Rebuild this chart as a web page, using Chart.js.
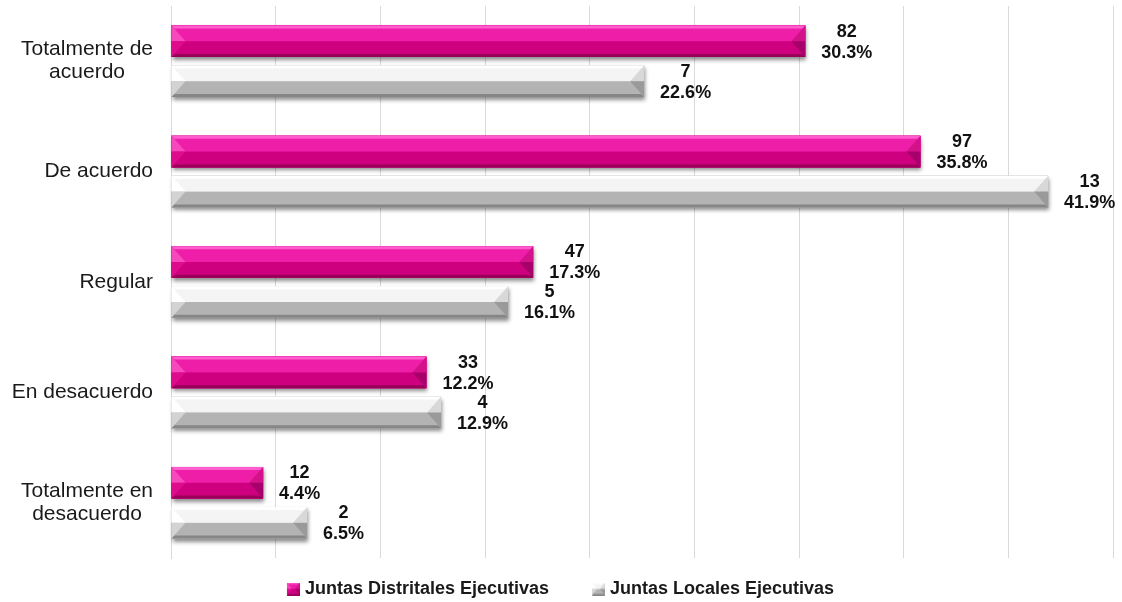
<!DOCTYPE html>
<html><head><meta charset="utf-8">
<script src="https://cdn.jsdelivr.net/npm/chart.js@4.4.1/dist/chart.umd.min.js"></script>
<style>html,body{margin:0;padding:0;background:#fff;}</style>
</head><body>
<canvas id="c" width="1122" height="602"></canvas>
<script>
// ---- data ----
const categories = [['Totalmente de', 'acuerdo'], 'De acuerdo', 'Regular', 'En desacuerdo', ['Totalmente en', 'desacuerdo']];
const seriesNames = ['Juntas Distritales Ejecutivas', 'Juntas Locales Ejecutivas'];
const distritalesPct = [30.3, 35.8, 17.3, 12.2, 4.4];
const distritalesCount = [82, 97, 47, 33, 12];
const localesPct = [22.6, 41.9, 16.1, 12.9, 6.5];
const localesCount = [7, 13, 5, 4, 2];
const axisMax = 45;
const axisStep = 5;

// ---- styles ----
const pinkFacets = {U:'#ee1ea8', L:'#cf007f', T:'#ff5cce', B:'#98005a', LT:'#f748be', LB:'#de0c8d', RT:'#d3128a', RB:'#a8006a'};
const grayFacets = {U:'#f4f4f4', L:'#b3b3b3', T:'#ffffff', B:'#868686', LT:'#ffffff', LB:'#d3d3d3', RT:'#d8d8d8', RB:'#9a9a9a'};
const facetsList = [pinkFacets, grayFacets];
const countsList = [distritalesCount, localesCount];

function drawBevel(ctx, l, t, r, b, f, e, s) {
  const mid = (t + b) / 2;
  const poly = (pts, col) => {
    ctx.beginPath(); ctx.moveTo(pts[0][0], pts[0][1]);
    for (let i = 1; i < pts.length; i++) ctx.lineTo(pts[i][0], pts[i][1]);
    ctx.closePath(); ctx.fillStyle = col; ctx.fill();
  };
  ctx.fillStyle = f.L; ctx.fillRect(l, t, r - l, b - t);
  ctx.fillStyle = f.U; ctx.fillRect(l, t, r - l, mid - t);
  poly([[l, t], [l + e, mid], [l, mid]], f.LT);
  poly([[l, mid], [l + e, mid], [l, b]], f.LB);
  poly([[r, t], [r - e, mid], [r, mid]], f.RT);
  poly([[r, mid], [r - e, mid], [r, b]], f.RB);
  poly([[l, t], [r, t], [r - s, t + s], [l + s, t + s]], f.T);
  poly([[l, b], [r, b], [r - s, b - s], [l + s, b - s]], f.B);
}

const BOX_W = 30, ICON_W = 38, ICON_S = 13;
function makeIcon(f) {
  const cv = document.createElement('canvas');
  cv.width = ICON_W; cv.height = ICON_S;
  const c = cv.getContext('2d');
  drawBevel(c, ICON_W - ICON_S, 0, ICON_W, ICON_S, f, 5, 1.5);
  return cv;
}
const legendIcons = [makeIcon(pinkFacets), makeIcon(grayFacets)];

const bevelPlugin = {
  id: 'bevel',
  beforeDatasetsDraw(chart) {
    const ctx = chart.ctx;
    chart.data.datasets.forEach((ds, i) => {
      chart.getDatasetMeta(i).data.forEach(bar => {
        const p = bar.getProps(['x', 'y', 'base', 'height'], true);
        const l = Math.min(p.x, p.base), r = Math.max(p.x, p.base);
        ctx.save();
        ctx.shadowColor = 'rgba(0,0,0,0.45)';
        ctx.shadowBlur = 4; ctx.shadowOffsetX = 1; ctx.shadowOffsetY = 3;
        ctx.fillStyle = facetsList[i].L;
        ctx.fillRect(l, p.y - p.height / 2, r - l, p.height);
        ctx.restore();
      });
    });
  },
  afterDatasetsDraw(chart) {
    const ctx = chart.ctx;
    chart.data.datasets.forEach((ds, i) => {
      chart.getDatasetMeta(i).data.forEach((bar, j) => {
        const p = bar.getProps(['x', 'y', 'base', 'height'], true);
        const l = Math.min(p.x, p.base), r = Math.max(p.x, p.base);
        ctx.save();
        drawBevel(ctx, l, p.y - p.height / 2, r, p.y + p.height / 2, facetsList[i], 14, 3);
        // data label
        ctx.font = 'bold 18px "Liberation Sans", Arial, sans-serif';
        ctx.fillStyle = '#111111';
        ctx.textAlign = 'center'; ctx.textBaseline = 'middle';
        const lines = [String(countsList[i][j]), ds.data[j].toFixed(1) + '%'];
        const w = Math.max(...lines.map(t => ctx.measureText(t).width));
        const cx = r + 16 + w / 2, cy = p.y + 1;
        ctx.fillText(lines[0], cx, cy - 10.5);
        ctx.fillText(lines[1], cx, cy + 10.5);
        ctx.restore();
      });
    });
  },
  afterDraw(chart) {
    const ctx = chart.ctx, ys = chart.scales.y;
    ctx.save();
    ctx.font = '21px "Liberation Sans", Arial, sans-serif';
    ctx.fillStyle = '#1a1a1a';
    ctx.textAlign = 'center'; ctx.textBaseline = 'middle';
    const rightEdge = chart.chartArea.left - 18;
    chart.data.labels.forEach((lab, j) => {
      const lines = Array.isArray(lab) ? lab : [lab];
      const w = Math.max(...lines.map(t => ctx.measureText(t).width));
      const cx = rightEdge - w / 2;
      const cy = ys.getPixelForValue(j);
      const lh = 23;
      lines.forEach((t, k) => ctx.fillText(t, cx, cy + (k - (lines.length - 1) / 2) * lh));
    });
    ctx.restore();
  }
};

new Chart(document.getElementById('c'), {
  type: 'bar',
  data: {
    labels: categories,
    datasets: [
      {label: seriesNames[0], data: distritalesPct, backgroundColor: pinkFacets.L, categoryPercentage: 0.725, barPercentage: 0.79},
      {label: seriesNames[1], data: localesPct, backgroundColor: grayFacets.L, categoryPercentage: 0.725, barPercentage: 0.79}
    ]
  },
  options: {
    indexAxis: 'y',
    responsive: false,
    animation: false,
    devicePixelRatio: 1,
    layout: {padding: {left: -13, right: 9, top: 6, bottom: -6}},
    scales: {
      x: {
        type: 'linear', min: 0, max: axisMax,
        ticks: {display: false, stepSize: axisStep},
        grid: {color: '#d9d9d9', lineWidth: 1, drawTicks: false},
        border: {display: false},
        afterFit: s => { s.height = 0; }
      },
      y: {
        type: 'category',
        ticks: {display: false},
        grid: {display: false, drawTicks: false},
        border: {display: true, color: '#d9d9d9', width: 1},
        afterFit: s => { s.width = 184; }
      }
    },
    plugins: {
      tooltip: {enabled: false},
      legend: {
        position: 'bottom',
        align: 'center',
        labels: {
          usePointStyle: true,
          pointStyleWidth: BOX_W,
          padding: 22,
          color: '#1a1a1a',
          font: {family: '"Liberation Sans", Arial, sans-serif', size: 18, weight: 'bold'},
          generateLabels: (chart) => chart.data.datasets.map((ds, i) => ({
            text: ds.label, fillStyle: ds.backgroundColor, strokeStyle: 'rgba(0,0,0,0)', lineWidth: 0,
            pointStyle: legendIcons[i], hidden: !chart.isDatasetVisible(i), datasetIndex: i, fontColor: '#1a1a1a'
          }))
        }
      }
    }
  },
  plugins: [bevelPlugin]
});
</script>
</body></html>
